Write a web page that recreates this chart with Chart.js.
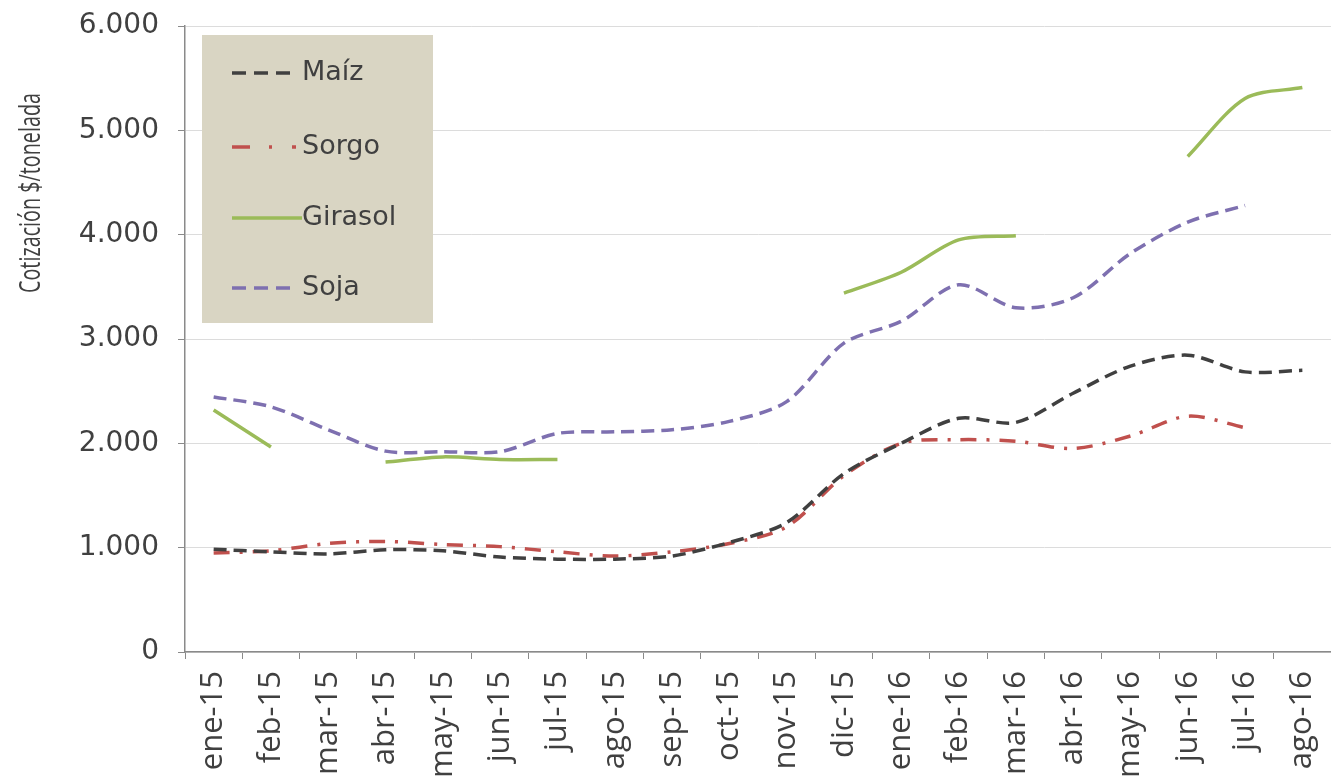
<!DOCTYPE html>
<html>
<head>
<meta charset="utf-8">
<script src="https://cdn.jsdelivr.net/npm/chart.js@4/dist/chart.umd.min.js"></script>
<style>
  html, body { margin: 0; padding: 0; background: #fff; overflow: hidden; }
  #wrap { width: 1331px; height: 784px; }
</style>
</head>
<body>
<div id="wrap"><canvas id="chartLine"></canvas></div>
<script>
var months = ['ene-15', 'feb-15', 'mar-15', 'abr-15', 'may-15', 'jun-15', 'jul-15', 'ago-15', 'sep-15', 'oct-15',
  'nov-15', 'dic-15', 'ene-16', 'feb-16', 'mar-16', 'abr-16', 'may-16', 'jun-16', 'jul-16', 'ago-16'];

var maiz = [985, 960, 940, 980, 970, 910, 890, 890, 920, 1050, 1240, 1710, 2000, 2240, 2200, 2480, 2740, 2845, 2685, 2700];
var sorgo = [950, 970, 1040, 1060, 1030, 1010, 960, 920, 960, 1040, 1200, 1690, 2000, 2035, 2020, 1950, 2070, 2260, 2150, null];
var girasol = [2320, 1965, null, 1820, 1870, 1845, 1845, null, null, null, null, 3440, 3640, 3950, 3990, null, null, 4750, 5305, 5410];
var soja = [2445, 2350, 2130, 1925, 1920, 1920, 2095, 2110, 2130, 2210, 2400, 2960, 3170, 3520, 3300, 3395, 3820, 4120, 4280, null];

var yTicks = [0, 1000, 2000, 3000, 4000, 5000, 6000];
var yTitle = 'Cotización $/tonelada';

var textColor = '#404040';

var legendBox = {
  id: 'legendBox',
  afterDraw: function (chart) {
    var ctx = chart.ctx;
    ctx.save();
    ctx.fillStyle = '#d9d5c3';
    ctx.fillRect(202, 35, 231, 288);
    var rows = [73, 147, 218, 288];
    var sampleEnd = [291, 296, 302, 291];
    chart.data.datasets.forEach(function (ds, i) {
      var y = rows[i];
      ctx.beginPath();
      ctx.strokeStyle = ds.borderColor;
      ctx.lineWidth = 3.5;
      ctx.setLineDash(ds.legendDash || []);
      ctx.moveTo(232, y);
      ctx.lineTo(sampleEnd[i], y);
      ctx.stroke();
      ctx.setLineDash([]);
      ctx.fillStyle = textColor;
      ctx.font = '27px "DejaVu Sans"';
      ctx.textBaseline = 'middle';
      ctx.fillText(ds.label, 302, y);
    });
    // titulo del eje Y, estrecho
    ctx.translate(31, 193);
    ctx.rotate(-Math.PI / 2);
    ctx.font = '30px "Liberation Sans Narrow", "Open Sans"';
    var w = ctx.measureText(yTitle).width;
    ctx.scale(200 / w, 1);
    ctx.textAlign = 'center';
    ctx.textBaseline = 'middle';
    ctx.fillStyle = textColor;
    ctx.fillText(yTitle, 0, 0);
    ctx.restore();
  }
};

var chartLine = new Chart(document.getElementById('chartLine'), {
  type: 'line',
  data: {
    labels: months,
    datasets: [{
      label: 'Maíz',
      data: maiz,
      borderColor: '#404040',
      borderDash: [13, 7],
      legendDash: [14, 8]
    }, {
      label: 'Sorgo',
      data: sorgo,
      borderColor: '#c0504d',
      borderDash: [16, 10, 3, 10],
      legendDash: [18, 19, 3, 20]
    }, {
      label: 'Girasol',
      data: girasol,
      borderColor: '#9bbb59'
    }, {
      label: 'Soja',
      data: soja,
      borderColor: '#7e70b0',
      borderDash: [13, 7],
      legendDash: [14, 8]
    }]
  },
  options: {
    responsive: true,
    maintainAspectRatio: false,
    animation: false,
    spanGaps: false,
    layout: { padding: { top: 26, right: 0, left: 0, bottom: 0 } },
    elements: {
      line: { borderWidth: 3.5, tension: 0.3, fill: false },
      point: { radius: 0 }
    },
    plugins: {
      legend: { display: false },
      tooltip: { enabled: false }
    },
    scales: {
      x: {
        offset: true,
        grid: { offset: true, drawOnChartArea: false, tickLength: 7, tickColor: '#8a8a8a' },
        border: { color: '#8a8a8a', width: 1.5 },
        ticks: {
          color: textColor,
          font: { family: 'Open Sans', size: 31 },
          minRotation: 90,
          maxRotation: 90,
          autoSkip: false,
          padding: 12
        },
        afterFit: function (scale) {
          scale.height = 132;
          scale.paddingLeft = 0;
          scale.paddingRight = 0;
        }
      },
      y: {
        min: 0,
        max: 6000,
        afterBuildTicks: function (scale) {
          scale.ticks = yTicks.map(function (v) { return { value: v }; });
        },
        grid: { color: '#dcdcdc', tickLength: 7, tickColor: '#8a8a8a' },
        border: { color: '#8a8a8a', width: 1.5 },
        ticks: {
          color: textColor,
          font: { family: 'DejaVu Sans', size: 28 },
          padding: 19,
          callback: function (v) { return v === 0 ? '0' : (v / 1000) + '.000'; }
        },
        afterFit: function (scale) {
          scale.width = 185;
          scale.paddingTop = 0;
          scale.paddingBottom = 0;
        }
      }
    }
  },
  plugins: [legendBox]
});
</script>
</body>
</html>
